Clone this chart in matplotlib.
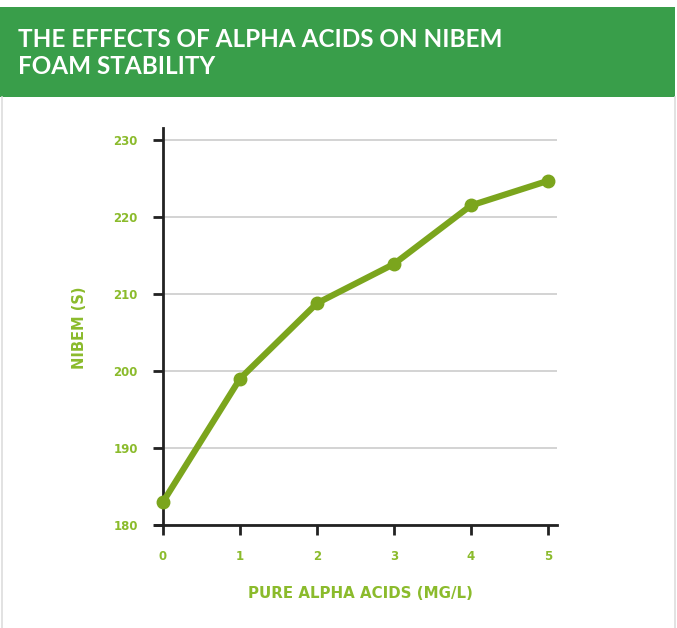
import matplotlib
matplotlib.use('Agg')
from matplotlib import pyplot as plt
from matplotlib.patches import Rectangle
from matplotlib.lines import Line2D

# data
alpha_acids = [0, 1, 2, 3, 4, 5]
nibem = [183.0, 199.0, 208.8, 213.9, 221.5, 224.7]
y_ticks = [180, 190, 200, 210, 220, 230]

title = 'THE EFFECTS OF ALPHA ACIDS ON NIBEM\nFOAM STABILITY'
header_green = '#399e4a'
line_green = '#7ba51d'
label_green = '#8bbb2c'

W, H = 677, 628
fig = plt.figure(figsize=(W / 100, H / 100), dpi=100)

# header band
fig.add_artist(Rectangle((0, 1 - 97 / H), 675 / W, 90 / H, transform=fig.transFigure,
                         facecolor=header_green, edgecolor='none'))
fig.text(18 / W, 1 - 28 / H, title, color='white', fontsize=17.5, fontweight='bold',
         family='Lato', va='top', ha='left', linespacing=1.2)

# faint side borders
for x in (1.5, 674.5):
    fig.add_artist(Line2D([x / W, x / W], [0, 1 - 97 / H], transform=fig.transFigure,
                          color='#dddddd', lw=1.2))

# axes placement (pixels): x=0 at 163, 1 unit = 77px; y=180 at 525, 10 units = 77px
x0, x1 = -0.1, 5.12
y0, y1 = 180, 231.5
left = (163 + x0 * 77) / W
width = (x1 - x0) * 77 / W
bottom = (H - 525) / H
height = (y1 - y0) * 7.7 / H
ax = fig.add_axes([left, bottom, width, height])

ax.plot(alpha_acids, nibem, color=line_green, lw=4.5, marker='o', markersize=9,
        solid_capstyle='round', zorder=3, clip_on=False)

ax.set_xlim(x0, x1)
ax.set_ylim(y0, y1)
ax.set_xticks(alpha_acids)
ax.set_yticks(y_ticks)
ax.grid(axis='y', color='#cccccc', lw=1.2)
ax.set_axisbelow(True)

for s in ('top', 'right'):
    ax.spines[s].set_visible(False)
ax.spines['left'].set_position(('data', 0))
ax.spines['left'].set_linewidth(2)
ax.spines['bottom'].set_linewidth(2)
ax.spines['left'].set_color('#222222')
ax.spines['bottom'].set_color('#222222')

ax.tick_params(axis='both', length=7, width=2, color='#222222',
               labelcolor=label_green, labelsize=8.5)
ax.tick_params(axis='y', pad=11)
ax.tick_params(axis='x', pad=11)
for lab in ax.get_xticklabels() + ax.get_yticklabels():
    lab.set_fontweight('bold')
    lab.set_family('DejaVu Sans')

fig.text(360 / W, 1 - 593 / H, 'PURE ALPHA ACIDS (MG/L)', color=label_green,
         fontsize=10.8, fontweight='bold', ha='center', va='center')
fig.text(80 / W, 1 - 328 / H, 'NIBEM (S)', color=label_green, fontsize=10.5,
         fontweight='bold', ha='center', va='center', rotation=90)

fig.savefig('out.png', dpi=100)
